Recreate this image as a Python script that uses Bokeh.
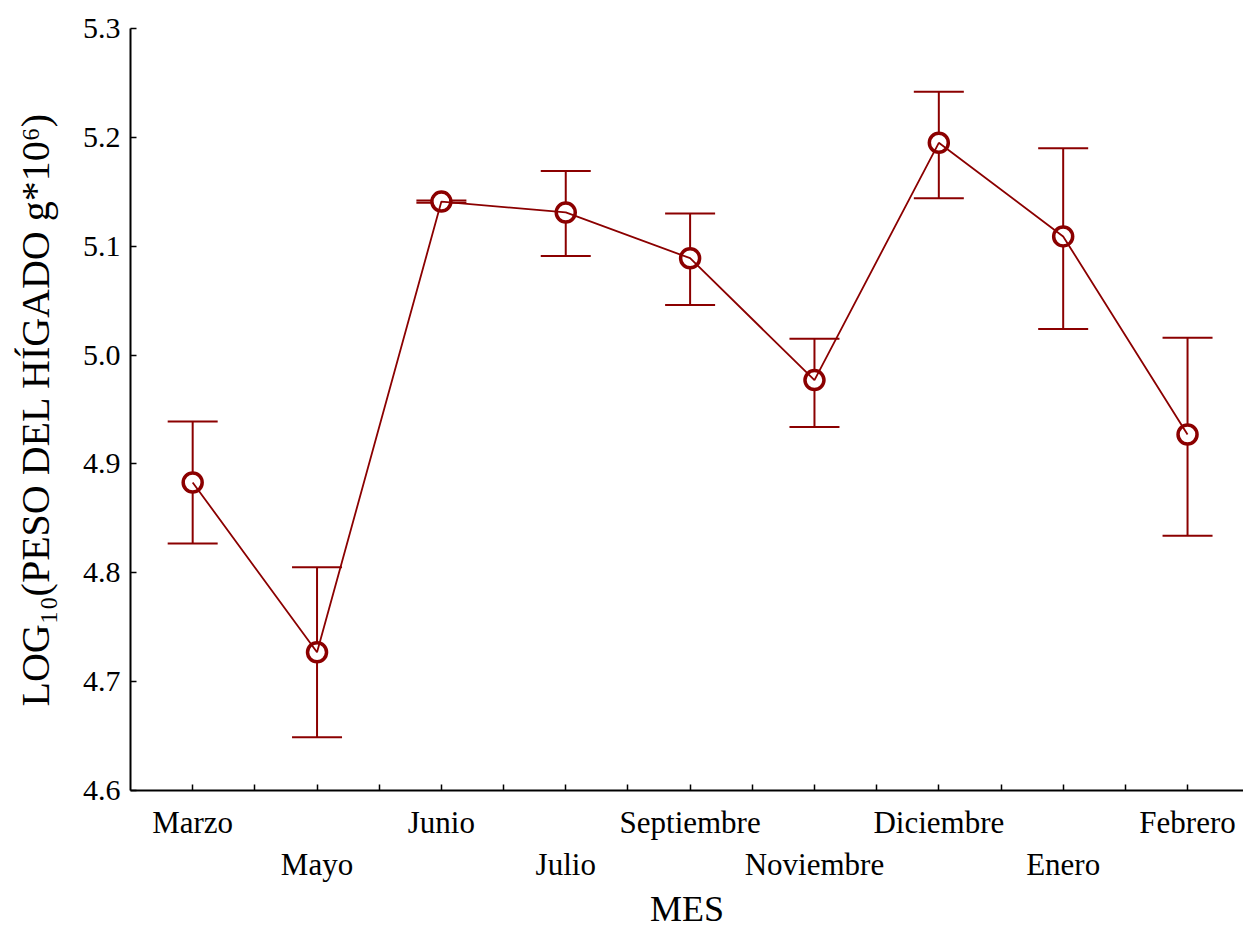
from bokeh.plotting import figure
from bokeh.models import (ColumnDataSource, Range1d, FixedTicker, NumeralTickFormatter,
                          Whisker, TeeHead)
from bokeh.embed import file_html
from bokeh.resources import INLINE

months = ["Marzo", "Mayo", "Junio", "Julio", "Septiembre", "Noviembre",
          "Diciembre", "Enero", "Febrero"]
means = [4.883, 4.727, 5.141, 5.131, 5.089, 4.977, 5.195, 5.109, 4.927]
upper = [4.939, 4.805, 5.142, 5.169, 5.130, 5.015, 5.242, 5.190, 5.016]
lower = [4.827, 4.649, 5.140, 5.091, 5.046, 4.934, 5.144, 5.024, 4.834]
y_ticks = [4.6, 4.7, 4.8, 4.9, 5.0, 5.1, 5.2, 5.3]

COLOR = "#8B0000"
FONT = "Liberation Serif"

xs = list(range(len(months)))
src = ColumnDataSource(dict(x=xs, mean=means, upper=upper, lower=lower))

p = figure(frame_width=1113, frame_height=762, output_backend="svg",
           toolbar_location=None, x_range=Range1d(-0.5, 8.45),
           y_range=Range1d(4.6, 5.3),
           min_border_left=130, min_border_top=28, min_border_right=0,
           min_border_bottom=0)
p.outline_line_color = None
p.grid.visible = False

w = Whisker(source=src, base="x", upper="upper", lower="lower",
            line_color=COLOR, line_width=2,
            upper_head=TeeHead(size=50, line_color=COLOR, line_width=2),
            lower_head=TeeHead(size=50, line_color=COLOR, line_width=2))
p.add_layout(w)
p.scatter("x", "mean", source=src, size=19, line_color=COLOR, line_width=3.5,
          fill_color="white")
p.line("x", "mean", source=src, line_color=COLOR, line_width=1.8)

# x axis
xa = p.xaxis[0]
xa.ticker = FixedTicker(ticks=xs, minor_ticks=[i + 0.5 for i in xs])
xa.major_label_overrides = {i: (m if i % 2 == 0 else "\n" + m) for i, m in enumerate(months)}
xa.axis_label = "MES"
xa.major_tick_in = 6
xa.major_tick_out = 0
xa.minor_tick_in = 6
xa.minor_tick_out = 0
xa.axis_line_width = 2
xa.major_tick_line_width = 1.5
xa.minor_tick_line_width = 1.5
xa.major_label_text_font = FONT
xa.major_label_text_font_size = "31px"
xa.major_label_text_color = "black"
xa.major_label_standoff = 14
xa.axis_label_text_font = FONT
xa.axis_label_text_font_size = "36px"
xa.axis_label_text_font_style = "normal"
xa.axis_label_text_color = "black"
xa.axis_label_standoff = 4

# y axis
ya = p.yaxis[0]
ya.ticker = FixedTicker(ticks=y_ticks, minor_ticks=[])
ya.formatter = NumeralTickFormatter(format="0.0")
ya.axis_label = "LOG\u2081\u2080(PESO DEL H\u00cdGADO g*10\u2076)"
ya.major_tick_in = 6
ya.major_tick_out = 0
ya.minor_tick_in = 0
ya.minor_tick_out = 0
ya.axis_line_width = 2
ya.major_tick_line_width = 1.5
ya.major_label_text_font = FONT
ya.major_label_text_font_size = "30px"
ya.major_label_text_color = "black"
ya.major_label_standoff = 10
ya.axis_label_text_font = FONT
ya.axis_label_text_font_size = "40px"
ya.axis_label_text_font_style = "normal"
ya.axis_label_text_color = "black"
ya.axis_label_standoff = 22

open("out.html", "w").write(file_html(p, INLINE))
